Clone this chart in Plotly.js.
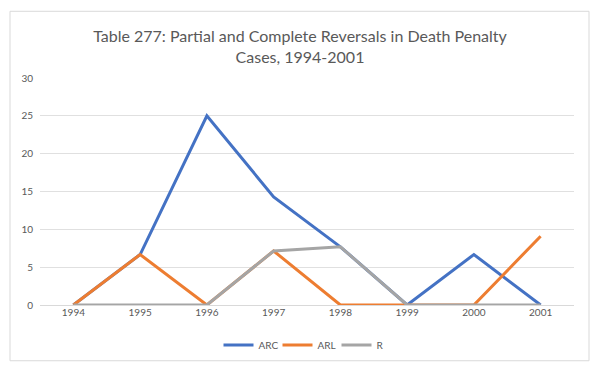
<!DOCTYPE html>
<html>
<head>
<meta charset="utf-8">
<script src="https://cdn.plot.ly/plotly-3.0.1.min.js"></script>
<style>html,body{margin:0;padding:0;background:#fff;}#chart{width:600px;height:370px;}</style>
</head>
<body>
<div id="chart"></div>
<script>
var years = ["1994", "1995", "1996", "1997", "1998", "1999", "2000", "2001"];
var arc = [0, 6.67, 25, 14.29, 7.69, 0, 6.67, 0];
var arl = [0, 6.67, 0, 7.14, 0, 0, 0, 9.09];
var r = [0, 0, 0, 7.14, 7.69, 0, 0, 0];
var yTicks = [0, 5, 10, 15, 20, 25, 30];

function line(name, ys, color) {
  return {
    type: "scatter", mode: "lines", name: name, x: years, y: ys,
    line: {color: color, width: 3},
    hoverinfo: "x+y+name"
  };
}

var data = [
  line("ARC", arc, "#4472C4"),
  line("ARL", arl, "#ED7D31"),
  line("R", r, "#A5A5A5")
];

var layout = {
  width: 600, height: 370,
  margin: {l: 40, r: 26, t: 78, b: 64},
  paper_bgcolor: "#ffffff", plot_bgcolor: "#ffffff",
  font: {family: "Lato, 'Open Sans', sans-serif", color: "#595959"},
  title: {
    text: "Table 277: Partial and Complete Reversals in Death Penalty<br>Cases, 1994-2001",
    font: {size: 16, color: "#595959", family: "Lato, 'Open Sans', sans-serif"},
    x: 0.5, xanchor: "center", xref: "container",
    y: 1 - 42 / 370, yanchor: "middle", yref: "container"
  },
  xaxis: {
    type: "category",
    range: [-0.5, 7.5],
    showgrid: false, zeroline: false,
    showline: false,
    ticks: "", tickfont: {size: 10, color: "#595959"},
    fixedrange: true
  },
  yaxis: {
    range: [0, 30],
    tickvals: yTicks,
    ticktext: yTicks.map(String),
    showgrid: true, gridcolor: "#e0e0e0", gridwidth: 1,
    zeroline: true, zerolinecolor: "#d9d9d9", zerolinewidth: 1,
    showline: false, ticks: "",
    ticklabelstandoff: 6,
    tickfont: {size: 10, color: "#595959"},
    fixedrange: true
  },
  showlegend: true,
  legend: {
    orientation: "h", x: 0.5, xanchor: "center",
    y: -39 / 228, yanchor: "middle",
    font: {size: 10, color: "#595959"},
    itemwidth: 30, entrywidth: 14, entrywidthmode: "pixels", tracegroupgap: 0
  },
  shapes: [{
    type: "rect", xref: "paper", yref: "paper",
    x0: -30 / 534, x1: 1 + 15 / 534,
    y0: -56 / 228, y1: 1 + 67 / 228,
    line: {color: "#d9d9d9", width: 1}, fillcolor: "rgba(0,0,0,0)",
    layer: "below"
  }]
};

Plotly.newPlot("chart", data, layout, {displayModeBar: false, staticPlot: true});
</script>
</body>
</html>
